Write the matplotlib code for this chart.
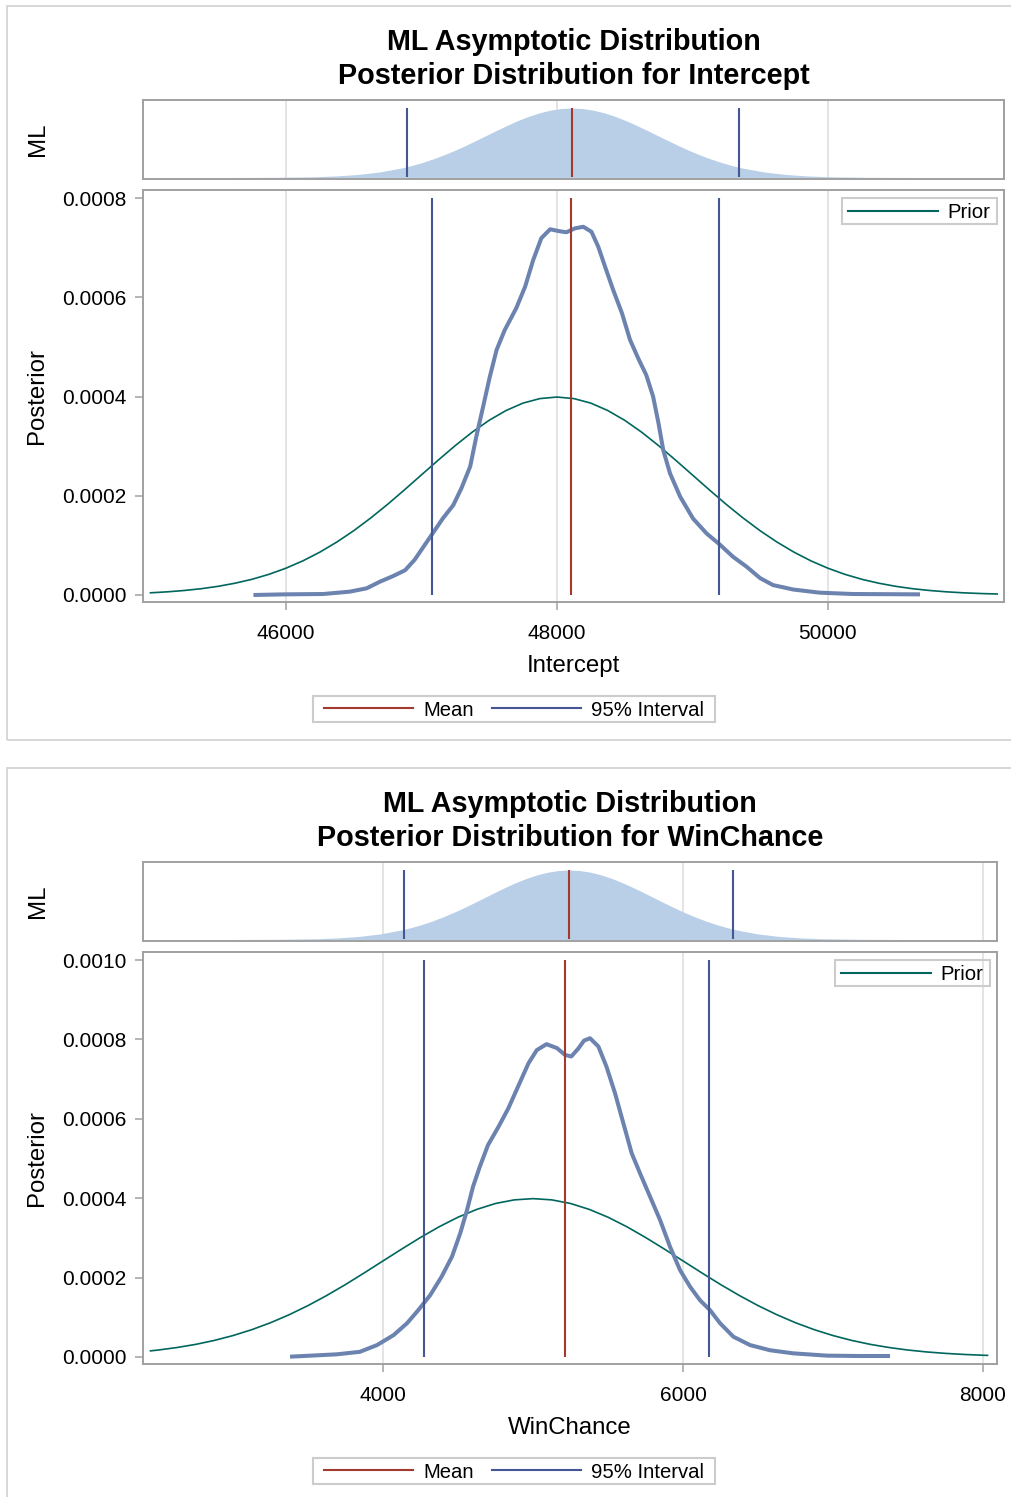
import numpy as np
import matplotlib.pyplot as plt
from matplotlib.lines import Line2D
from matplotlib.patches import Rectangle

plt.rcParams['font.family'] = ['Liberation Sans', 'DejaVu Sans']

W, H = 1011, 1497

# ---- Intercept panel data ----
int_prior_x = [45000, 45125, 45250, 45375, 45500, 45625, 45750, 45875, 46000, 46125, 46250, 46375,
               46500, 46625, 46750, 46875, 47000, 47125, 47250, 47375, 47500, 47625, 47750, 47875,
               48000, 48125, 48250, 48375, 48500, 48625, 48750, 48875, 49000, 49125, 49250, 49375,
               49500, 49625, 49750, 49875, 50000, 50125, 50250, 50375, 50500, 50625, 50750, 50875,
               51000, 51125, 51250]
int_prior_y = [0.044, 0.064, 0.091, 0.127, 0.175, 0.238, 0.317, 0.417, 0.540, 0.688, 0.863, 1.066,
               1.295, 1.550, 1.826, 2.119, 2.420, 2.720, 3.011, 3.282, 3.521, 3.718, 3.867, 3.958,
               3.989, 3.958, 3.867, 3.718, 3.521, 3.282, 3.011, 2.720, 2.420, 2.119, 1.826, 1.550,
               1.295, 1.066, 0.863, 0.688, 0.540, 0.417, 0.317, 0.238, 0.175, 0.127, 0.091, 0.064,
               0.044, 0.030, 0.020]  # x 1e-4

int_post_x = [45760, 45990, 46275, 46470, 46595, 46695, 46790, 46880, 46950, 47015, 47075, 47160,
              47235, 47295, 47360, 47405, 47455, 47505, 47555, 47615, 47700, 47765, 47825, 47885,
              47950, 48020, 48070, 48135, 48195, 48255, 48305, 48355, 48415, 48480, 48540, 48600,
              48660, 48710, 48750, 48785, 48835, 48910, 49005, 49105, 49205, 49300, 49400, 49500,
              49595, 49745, 49940, 50185, 50680]
int_post_y = [0.0, 0.013, 0.020, 0.067, 0.134, 0.27, 0.38, 0.50, 0.71, 0.97, 1.21, 1.55,
              1.81, 2.15, 2.59, 3.19, 3.79, 4.40, 4.94, 5.34, 5.78, 6.21, 6.75, 7.19,
              7.37, 7.33, 7.31, 7.39, 7.42, 7.32, 7.02, 6.62, 6.15, 5.68, 5.14, 4.77,
              4.43, 4.00, 3.46, 2.92, 2.45, 1.98, 1.54, 1.24, 1.01, 0.77, 0.57, 0.34,
              0.20, 0.11, 0.047, 0.020, 0.013]  # x 1e-4

int_ml_x = [45590, 45905, 46220, 46378, 46535, 46693, 46850, 46929, 47008, 47086, 47165, 47244,
            47323, 47401, 47480, 47559, 47638, 47716, 47795, 47874, 47953, 48031, 48110, 48189,
            48268, 48346, 48425, 48504, 48583, 48661, 48740, 48819, 48898, 48976, 49055, 49134,
            49213, 49291, 49370, 49528, 49685, 49843, 50000, 50315, 50630]
int_ml_y = [0.0003, 0.0022, 0.0111, 0.0228, 0.0439, 0.0796, 0.1353, 0.1724, 0.2163, 0.2671, 0.3247,
            0.3886, 0.4578, 0.5311, 0.6065, 0.6818, 0.7548, 0.8226, 0.8825, 0.9321, 0.9692, 0.9922,
            1.0, 0.9922, 0.9692, 0.9321, 0.8825, 0.8226, 0.7548, 0.6818, 0.6065, 0.5311, 0.4578,
            0.3886, 0.3247, 0.2671, 0.2163, 0.1724, 0.1353, 0.0796, 0.0439, 0.0228, 0.0111, 0.0022,
            0.0003]

int_ml_stats = [48110, 46895, 49345]     # mean, lower, upper
int_post_stats = [48105, 47075, 49200]

# ---- WinChance panel data ----
win_prior_x = [2450, 2500, 2625, 2750, 2875, 3000, 3125, 3250, 3375, 3500, 3625, 3750, 3875, 4000,
               4125, 4250, 4375, 4500, 4625, 4750, 4875, 5000, 5125, 5250, 5375, 5500, 5625, 5750,
               5875, 6000, 6125, 6250, 6375, 6500, 6625, 6750, 6875, 7000, 7125, 7250, 7375, 7500,
               7625, 7750, 7875, 8000, 8030]
win_prior_y = [0.154, 0.175, 0.238, 0.317, 0.417, 0.540, 0.688, 0.863, 1.066, 1.295, 1.550, 1.826,
               2.119, 2.420, 2.720, 3.011, 3.282, 3.521, 3.718, 3.867, 3.958, 3.989, 3.958, 3.867,
               3.718, 3.521, 3.282, 3.011, 2.720, 2.420, 2.119, 1.826, 1.550, 1.295, 1.066, 0.863,
               0.688, 0.540, 0.417, 0.317, 0.238, 0.175, 0.127, 0.091, 0.064, 0.044, 0.041]

win_post_x = [3380, 3690, 3845, 3960, 4070, 4160, 4235, 4315, 4390, 4460, 4515, 4560, 4600, 4645,
              4700, 4770, 4835, 4900, 4970, 5025, 5090, 5160, 5213, 5255, 5302, 5340, 5380, 5436,
              5490, 5547, 5602, 5658, 5713, 5780, 5847, 5913, 5980, 6047, 6113, 6180, 6247, 6336,
              6447, 6580, 6735, 6960, 7180, 7380]
win_post_y = [0.008, 0.067, 0.13, 0.30, 0.55, 0.85, 1.18, 1.56, 2.02, 2.53, 3.12, 3.70, 4.29, 4.79,
              5.34, 5.80, 6.26, 6.81, 7.40, 7.73, 7.88, 7.78, 7.61, 7.57, 7.77, 7.97, 8.03, 7.82,
              7.31, 6.64, 5.89, 5.13, 4.63, 4.04, 3.45, 2.78, 2.19, 1.77, 1.43, 1.18, 0.85, 0.51,
              0.30, 0.17, 0.092, 0.034, 0.025, 0.025]

win_ml_x = [3000, 3280, 3560, 3700, 3840, 3980, 4120, 4190, 4260, 4330, 4400, 4470, 4540, 4610,
            4680, 4750, 4820, 4890, 4960, 5030, 5100, 5170, 5240, 5310, 5380, 5450, 5520, 5590,
            5660, 5730, 5800, 5870, 5940, 6010, 6080, 6150, 6220, 6290, 6360, 6500, 6640, 6780,
            6920, 7200, 7480]
win_ml_y = int_ml_y

win_ml_stats = [5240, 4140, 6335]
win_post_stats = [5213, 4273, 6173]

C_POST = '#6c83b0'
C_PRIOR = '#01665E'
C_MEAN = '#A23A2E'
C_INT = '#445694'
C_FILL = '#B9CFE7'
C_FRAME = '#a0a0a0'
C_GRID = '#e2e2e2'


def fx(px):
    return px / W


def fy(py):
    return 1 - py / H


def rect(l, t, r, b):
    return [l / W, 1 - b / H, (r - l) / W, (b - t) / H]


fig = plt.figure(figsize=(W / 100, H / 100), dpi=100)


def draw_panel(top, right, name, xlim, xticks, ymax, yticks,
               prior_x, prior_y, post_x, post_y, ml_x, ml_y, ml_stats, post_stats, prior_leg):
    # panel border
    fig.add_artist(Rectangle((fx(6.5), fy(top + 734)), fx(1020), 734 / H, transform=fig.transFigure,
                             fill=False, ec='#d4d4d4', lw=1.3))
    cx = (143 + right) / 2
    fig.text(fx(cx), fy(top + 36), 'ML Asymptotic Distribution', ha='center', va='center',
             fontsize=20.7, fontweight='bold')
    fig.text(fx(cx), fy(top + 70), 'Posterior Distribution for ' + name, ha='center', va='center',
             fontsize=20.7, fontweight='bold')

    # ML strip
    ax1 = fig.add_axes(rect(143, top + 94, right, top + 173))
    ax1.fill_between(ml_x, 0, ml_y, color=C_FILL, lw=0, zorder=1)
    ax1.vlines(ml_stats[0], 0, 1, color=C_MEAN, lw=1.5, zorder=3)
    ax1.vlines(ml_stats[1:], 0, 1, color=C_INT, lw=1.5, zorder=3)
    ax1.set_xlim(xlim)
    ax1.set_ylim(-0.022, 1.115)
    ax1.set_xticks(xticks)
    ax1.set_yticks([])
    ax1.tick_params(axis='x', length=0, labelbottom=False)
    ax1.grid(axis='x', color=C_GRID, lw=1.3)
    ax1.set_axisbelow(True)
    for s in ax1.spines.values():
        s.set_color(C_FRAME)
        s.set_linewidth(1.4)
    fig.text(fx(38), fy(top + 133), 'ML', rotation=90, ha='center', va='center', fontsize=17.3)

    # main posterior plot
    ax2 = fig.add_axes(rect(143, top + 184, right, top + 596))
    ax2.plot(prior_x, np.array(prior_y) * 1e-4, color=C_PRIOR, lw=1.2, zorder=2)
    ax2.plot(post_x, np.array(post_y) * 1e-4, color=C_POST, lw=2.9, zorder=3,
             solid_capstyle='butt', solid_joinstyle='round')
    ax2.vlines(post_stats[0], 0, ymax, color=C_MEAN, lw=1.5, zorder=4)
    ax2.vlines(post_stats[1:], 0, ymax, color=C_INT, lw=1.5, zorder=4)
    ax2.set_xlim(xlim)
    ax2.set_ylim(-ymax * 7 / 397, ymax * (1 + 8 / 397))
    ax2.set_xticks(xticks)
    ax2.set_xticklabels([str(v) for v in xticks])
    ax2.set_yticks(yticks)
    ax2.set_yticklabels([f'{v:.4f}' for v in yticks])
    ax2.tick_params(axis='both', direction='out', length=5.5, width=1.1, color=C_FRAME,
                    labelsize=15)
    ax2.tick_params(axis='y', pad=6.5)
    ax2.tick_params(axis='x', pad=10.6)
    ax2.grid(axis='x', color=C_GRID, lw=1.3)
    ax2.set_axisbelow(True)
    for s in ax2.spines.values():
        s.set_color(C_FRAME)
        s.set_linewidth(1.4)
    fig.text(fx(37), fy(top + 390), 'Posterior', rotation=90, ha='center', va='center', fontsize=17.3)
    fig.text(fx(cx), fy(top + 660), name, ha='center', va='center', fontsize=17.3)

    # prior legend (inside, upper right)
    pl, pt, pr, pb = prior_leg
    fig.add_artist(Rectangle((fx(pl), fy(pb)), (pr - pl) / W, (pb - pt) / H,
                             transform=fig.transFigure, fill=False, ec='#cccccc', lw=1.5))
    ax2.legend([Line2D([], [], color=C_PRIOR, lw=1.5)], ['Prior'], loc='center',
               bbox_to_anchor=(fx((pl + pr) / 2), fy((pt + pb) / 2 + 2)),
               bbox_transform=fig.transFigure,
               frameon=False, borderpad=0, fontsize=14.6, handlelength=4.4, handletextpad=0.5)

    # bottom legend
    fig.add_artist(Rectangle((fx(313), fy(top + 716)), 402 / W, 26 / H,
                             transform=fig.transFigure, fill=False, ec='#cccccc', lw=1.5))
    fig.legend([Line2D([], [], color=C_MEAN, lw=1.5), Line2D([], [], color=C_INT, lw=1.5)],
               ['Mean', '95% Interval'], loc='center', ncol=2,
               bbox_to_anchor=(fx(514), fy(top + 704)), frameon=False, borderpad=0,
               fontsize=14.6, handlelength=4.4, handletextpad=0.5, columnspacing=0.9)
    return ax1, ax2


draw_panel(6, 1004, 'Intercept', (44945, 51300), [46000, 48000, 50000], 0.0008,
           [0, 0.0002, 0.0004, 0.0006, 0.0008],
           int_prior_x, int_prior_y, int_post_x, int_post_y, int_ml_x, int_ml_y,
           int_ml_stats, int_post_stats, (842, 198, 997, 224))

draw_panel(768, 997, 'WinChance', (2400, 8093), [4000, 6000, 8000], 0.0010,
           [0, 0.0002, 0.0004, 0.0006, 0.0008, 0.0010],
           win_prior_x, win_prior_y, win_post_x, win_post_y, win_ml_x, win_ml_y,
           win_ml_stats, win_post_stats, (835, 960, 990, 986))

fig.savefig('out.png', dpi=100)
